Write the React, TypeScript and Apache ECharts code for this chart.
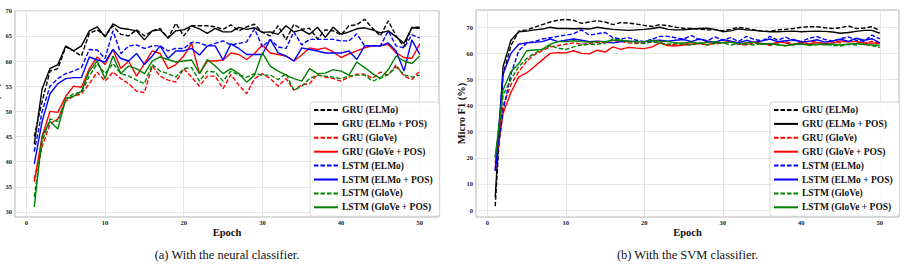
import React, { useEffect, useRef } from "react";
import * as echarts from "echarts";

// Training epochs (shared x values for every curve)
const epochs = [
  1, 2, 3, 4, 5, 6, 7, 8, 9, 10, 11, 12, 13, 14, 15, 16, 17, 18, 19, 20, 21, 22, 23, 24, 25,
  26, 27, 28, 29, 30, 31, 32, 33, 34, 35, 36, 37, 38, 39, 40, 41, 42, 43, 44, 45, 46, 47, 48, 49, 50,
];

const seriesNames = [
  "GRU (ELMo)",
  "GRU (ELMo + POS)",
  "GRU (GloVe)",
  "GRU (GloVe + POS)",
  "LSTM (ELMo)",
  "LSTM (ELMo + POS)",
  "LSTM (GloVe)",
  "LSTM (GloVe + POS)",
];

const xTicks = [0, 10, 20, 30, 40, 50];
const yTicksNeural = [30, 35, 40, 45, 50, 55, 60, 65, 70];
const yTicksSvm = [0, 10, 20, 30, 40, 50, 60, 70];

const xTitle = "Epoch";
const yTitle = "Micro F1 (%)";
const captionNeural = "(a) With the neural classifier.";
const captionSvm = "(b) With the SVM classifier.";

// (a) Micro F1 with the neural classifier
const nnGruElmo = [
  45, 52, 58, 58.5, 62.8, 62, 61, 65.5, 66.2, 65, 67, 65.3, 65, 66.2, 65, 66, 66.5, 64.5, 67.5, 65, 67, 67, 67, 66.8, 66.3,
  67.2, 66, 66.8, 67.3, 65.7, 65, 67, 64.2, 67.3, 66.3, 66.5, 64.4, 66.2, 66, 65.2, 67, 67.2, 68.3, 66.5, 65, 68, 65, 62.8, 66.7, 66.7,
];
const nnGruElmoPos = [
  43.5, 54.5, 58.5, 59.3, 63, 62, 63, 66, 66.8, 64.8, 67.4, 66.5, 66.3, 66, 64.2, 66, 66.2, 64.6, 66, 66.2, 67, 66.4, 65.5, 66.5, 65.8,
  65.8, 66.7, 66.3, 66.6, 65.7, 65.8, 65.3, 67, 65.8, 66.2, 65.3, 66.7, 64.7, 66.7, 65.3, 65.8, 66.4, 66.6, 66.2, 65.6, 66, 64.8, 63.5, 66.6, 66.5,
];
const nnGruGlove = [
  36.5, 43, 47.5, 48.5, 52, 53, 53.5, 55.5, 57.8, 56, 57.8, 56.5, 55.5, 54, 53.7, 59, 57, 56.2, 55.8, 58.5, 56.8, 55, 57, 57, 54.5,
  57.3, 55.2, 53.5, 56.5, 57.5, 56.5, 55, 56.5, 54.2, 55.3, 55.5, 57.3, 56.8, 56.5, 56, 56.8, 57.4, 57.4, 56.6, 57.8, 57.2, 59.2, 57, 56.3, 58,
];
const nnGruGlovePos = [
  36, 45, 50, 49.8, 53, 55, 54.8, 58.5, 60.8, 59.3, 62.3, 58.5, 60, 57, 59.5, 62, 61.5, 58.5, 59.3, 61, 63.5, 57.5, 60, 60, 60.2,
  61.6, 61.3, 60.3, 61.5, 63.2, 61.6, 61.3, 61, 60, 61.2, 62.6, 62.3, 62.6, 61.8, 60.7, 61.4, 62, 62.6, 63, 63, 63.3, 61.6, 60.7, 60.5, 63.4,
];
const nnLstmElmo = [
  42, 50, 55, 56.5, 57.5, 58, 58.7, 62.3, 62.2, 60.5, 66, 61.5, 63, 63.2, 62.5, 63, 63, 62, 62.5, 62.5, 63.7, 63.6, 63, 63.5, 64,
  63.2, 63.5, 63.8, 66.4, 62.8, 64.3, 62.8, 62.5, 65.8, 63.2, 64.3, 64.3, 64.3, 64.3, 64, 64, 65.4, 63, 63, 63, 66, 63, 62.6, 65.2, 64.6,
];
const nnLstmElmoPos = [
  39.5, 48, 53.5, 55.5, 56.5, 56.7, 56.7, 60.8, 60.2, 59.8, 62.3, 60.5, 60, 61.5, 59.3, 61, 63, 60.5, 62, 62, 62.5, 61.2, 63, 63, 60.2,
  63.4, 62.5, 61.3, 61.3, 61.3, 64.3, 61.6, 61, 60, 62.6, 62.3, 62, 61.6, 61.6, 61.6, 62, 60.3, 63, 63, 63, 63.6, 62, 58, 64.2, 61.3,
];
const nnLstmGlove = [
  33, 44, 48.5, 48, 52.5, 53.5, 53.8, 57, 59.5, 57.5, 59.5, 57.5, 57, 56.2, 55.5, 59.3, 58, 57.5, 56.8, 58.5, 58.7, 56, 58, 57.8, 56,
  58, 57.2, 56.8, 57.5, 57.2, 57.2, 56.3, 57.5, 54.2, 55, 56.5, 57.2, 57, 56.8, 56.5, 57, 57.2, 57.2, 56, 56.6, 57.3, 58.8, 57.3, 56.8, 57.2,
];
const nnLstmGlovePos = [
  31, 45, 48, 46.5, 52.5, 53, 54, 58, 60, 56.5, 61, 57.5, 59, 58.5, 57.5, 60, 60.8, 60.3, 59.8, 60, 60.2, 57.5, 60.3, 59, 57.5,
  58.5, 57.5, 55.8, 57.2, 61.6, 59, 58, 57.2, 56.5, 56, 58.5, 57.5, 57.6, 58.3, 58, 57.2, 59.8, 58.7, 57.5, 56.5, 58.3, 61, 60, 59.5, 61,
];

// (b) Micro F1 with the SVM classifier
const svmGruElmo = [
  1.5, 52, 63, 68.5, 69, 70, 71, 72, 72.7, 73, 72.6, 71.5, 72, 72.5, 72, 71, 71.8, 71.6, 71.2, 70.7, 70.3, 71, 70.6, 70, 69.6,
  69.5, 69.3, 69, 69, 68.7, 69.2, 70, 69.5, 69, 68.5, 68.4, 69, 69.2, 69.5, 70, 70.2, 70.2, 69.8, 69.5, 69.8, 70.5, 69.5, 69.7, 70.2, 68.7,
];
const svmGruElmoPos = [
  5, 55, 65, 68.3, 68.5, 69, 69.3, 70, 69.5, 69.5, 69.4, 69.5, 69.3, 70, 69.5, 69.2, 69, 68.8, 69, 69.2, 69.5, 70, 69.2, 69, 69,
  69.3, 69.5, 69.6, 69.2, 68.3, 68.6, 69.4, 69, 68.8, 68.5, 68.3, 68.3, 68.4, 68.5, 68.3, 68.4, 68.5, 68.4, 68.2, 67.7, 68, 68.4, 68.8, 68.8, 67.7,
];
const svmGruGlove = [
  18, 40, 48, 53, 57, 59.5, 61, 62.5, 63, 63.5, 64, 63.5, 63.8, 64.3, 64, 64.2, 64.5, 64, 63.8, 64, 64.5, 64.2, 63, 63.5, 63.5,
  64.2, 63.8, 64.5, 63.6, 64, 64.6, 63.5, 63.2, 64, 63.8, 63, 64.2, 64.6, 63.5, 64, 64.7, 64.2, 63.6, 64.4, 64, 64.8, 64.4, 63.9, 64.6, 64,
];
const svmGruGlovePos = [
  16, 37, 45, 51, 52.5, 55, 57.5, 60, 60.3, 60.2, 61, 60, 59.8, 61.2, 60.5, 62.5, 61.5, 62.3, 62, 61.8, 62.5, 64, 63, 62.8, 63.2,
  63.5, 63.8, 63.2, 64, 64.2, 64.5, 63.6, 64, 64.4, 63.8, 63.4, 64.3, 64, 63.2, 64.4, 63.6, 64.2, 63.8, 64, 64.8, 64.3, 64.7, 63.8, 64, 63.7,
];
const svmLstmElmo = [
  15, 38, 52, 61, 64, 64.5, 65.5, 66, 66.5, 67, 67.5, 69, 67, 67.5, 68, 66, 65.5, 66, 65, 64.5, 65.5, 66.5, 66.5, 66, 65.5,
  66.8, 65.3, 64.8, 66.3, 65, 66, 64.5, 66.5, 65.3, 64.8, 66.5, 65, 66.2, 65, 64.5, 65.8, 66.4, 65.3, 64.7, 65.6, 66.3, 65, 64.6, 67, 65.5,
];
const svmLstmElmoPos = [
  15, 52, 60, 63.5, 64, 64.2, 64.5, 65.5, 64.5, 65, 65.5, 65, 64.5, 64.7, 64.5, 64, 64.5, 64.7, 64.5, 64.5, 64.8, 65, 64.7, 65, 65.3,
  64.5, 65.5, 64.8, 64.2, 65.3, 64.7, 64, 65, 64.2, 64.8, 65.5, 64.5, 64.8, 65.3, 64.4, 64.6, 65.2, 64.3, 64.8, 65.4, 64.6, 65.8, 65, 65.6, 64,
];
const svmLstmGlove = [
  20, 44, 50, 55, 58, 60, 61.5, 63, 62, 61.5, 62.5, 63.2, 63.5, 63.5, 64, 65.5, 65, 64.5, 64, 63.8, 64.3, 64, 63.5, 63.7, 63.5,
  63.2, 64, 63.3, 63.8, 64, 63.2, 63.8, 63.5, 63.2, 63.8, 63.3, 63.6, 62.8, 63.5, 63.8, 63, 63.4, 63.6, 63, 62.8, 63.5, 63.2, 63.6, 63, 62.2,
];
const svmLstmGlovePos = [
  20, 46, 53, 56, 61, 61.3, 61.5, 63.5, 64.5, 64.5, 64.8, 64.5, 64.3, 64.5, 64.5, 65, 65, 64.7, 64.5, 64.5, 65, 64.7, 64.5, 64, 64,
  64.3, 63.8, 64.2, 64.5, 64, 64.3, 63.6, 64, 64.2, 63.5, 63.8, 63.2, 63, 63.4, 63.6, 63.2, 63.5, 63.3, 63.6, 63.2, 63.5, 63.8, 63.4, 63.2, 63,
];

const neuralSeries = [
  nnGruElmo, nnGruElmoPos, nnGruGlove, nnGruGlovePos,
  nnLstmElmo, nnLstmElmoPos, nnLstmGlove, nnLstmGlovePos,
];
const svmSeries = [
  svmGruElmo, svmGruElmoPos, svmGruGlove, svmGruGlovePos,
  svmLstmElmo, svmLstmElmoPos, svmLstmGlove, svmLstmGlovePos,
];

const lineColors = ["#000000", "#000000", "#ff0000", "#ff0000", "#0000ff", "#0000ff", "#008000", "#008000"];
const dashed = [true, false, true, false, true, false, true, false];

const SERIF = "'Liberation Serif', 'DejaVu Serif', serif";

function buildSeries(values: number[][], axisIndex: number) {
  return values.map((vals, i) => ({
    name: seriesNames[i],
    type: "line",
    xAxisIndex: axisIndex,
    yAxisIndex: axisIndex,
    symbol: "none",
    data: epochs.map((e, k) => [e, vals[k]]),
    lineStyle: {
      color: lineColors[i],
      width: 1.4,
      type: dashed[i] ? [4.5, 2] : "solid",
    },
    itemStyle: { color: lineColors[i] },
    z: 2 + i,
  }));
}

function makeXAxis(gridIndex: number) {
  return {
    type: "value",
    gridIndex,
    min: -1.45,
    max: 52.45,
    axisLine: { show: false },
    axisTick: { show: false, customValues: xTicks },
    axisLabel: {
      customValues: xTicks,
      fontFamily: SERIF,
      fontWeight: "bold",
      fontSize: 6.5,
      color: "#222",
      margin: 2,
    },
    splitLine: { show: true, lineStyle: { color: "#dedede", width: 0.8 } },
  };
}

function makeYAxis(gridIndex: number, min: number, max: number, ticks: number[]) {
  return {
    type: "value",
    gridIndex,
    min,
    max,
    axisLine: { show: false },
    axisTick: { show: false, customValues: ticks },
    axisLabel: {
      customValues: ticks,
      fontFamily: SERIF,
      fontWeight: "bold",
      fontSize: 6.5,
      color: "#222",
      margin: 3,
    },
    splitLine: { show: true, lineStyle: { color: "#dedede", width: 0.8 } },
  };
}

function makeLegend(left: number) {
  return {
    orient: "vertical",
    left,
    top: 102,
    data: seriesNames,
    itemWidth: 24,
    itemHeight: 9,
    itemGap: 3.9,
    padding: [3, 7, 4, 3],
    backgroundColor: "rgba(255,255,255,0.85)",
    borderColor: "#cccccc",
    borderWidth: 0.8,
    borderRadius: 3,
    selectedMode: false,
    itemStyle: { opacity: 0, borderWidth: 0 },
    textStyle: { fontFamily: SERIF, fontWeight: "bold", fontSize: 9.5, color: "#111", padding: [0, 0, 0, -1] },
  };
}

function titleText(text: string, x: number, y: number, rotated: boolean) {
  return {
    type: "text",
    x,
    y,
    rotation: rotated ? Math.PI / 2 : 0,
    style: {
      text,
      font: `bold 10.5px ${SERIF}`,
      fill: "#111",
      align: "center",
      verticalAlign: "middle",
    },
  };
}

function captionText(text: string, x: number) {
  return {
    type: "text",
    x,
    y: 255,
    style: { text, font: `12.5px ${SERIF}`, fill: "#111", align: "center", verticalAlign: "middle" },
  };
}

export default function App() {
  const ref = useRef<HTMLDivElement>(null);

  useEffect(() => {
    if (!ref.current) return;
    const chart = echarts.init(ref.current, undefined, { renderer: "svg" });
    chart.setOption({
      animation: false,
      backgroundColor: "#ffffff",
      grid: [
        { left: 15, right: 478, top: 10.7, bottom: 53, show: true, borderColor: "#b5b5b5", borderWidth: 1, backgroundColor: "transparent" },
        { left: 476, right: 18, top: 10, bottom: 53, show: true, borderColor: "#b5b5b5", borderWidth: 1, backgroundColor: "transparent" },
      ],
      xAxis: [makeXAxis(0), makeXAxis(1)],
      yAxis: [makeYAxis(0, 29, 70, yTicksNeural), makeYAxis(1, -2.65, 76.6, yTicksSvm)],
      legend: [makeLegend(310), makeLegend(770)],
      series: [...buildSeries(neuralSeries, 0), ...buildSeries(svmSeries, 1)],
      graphic: [
        titleText(xTitle, 227, 232, false),
        titleText(xTitle, 687.5, 232, false),
        // the left panel's y title sits mostly past the page edge
        titleText(yTitle, -4.5, 113.5, true),
        titleText(yTitle, 461, 113.5, true),
        captionText(captionNeural, 227),
        captionText(captionSvm, 687.5),
      ],
    });
    return () => chart.dispose();
  }, []);

  return (
    <div
      ref={ref}
      style={{ position: "absolute", left: 0, top: 0, width: 917, height: 270, background: "#fff" }}
    />
  );
}
